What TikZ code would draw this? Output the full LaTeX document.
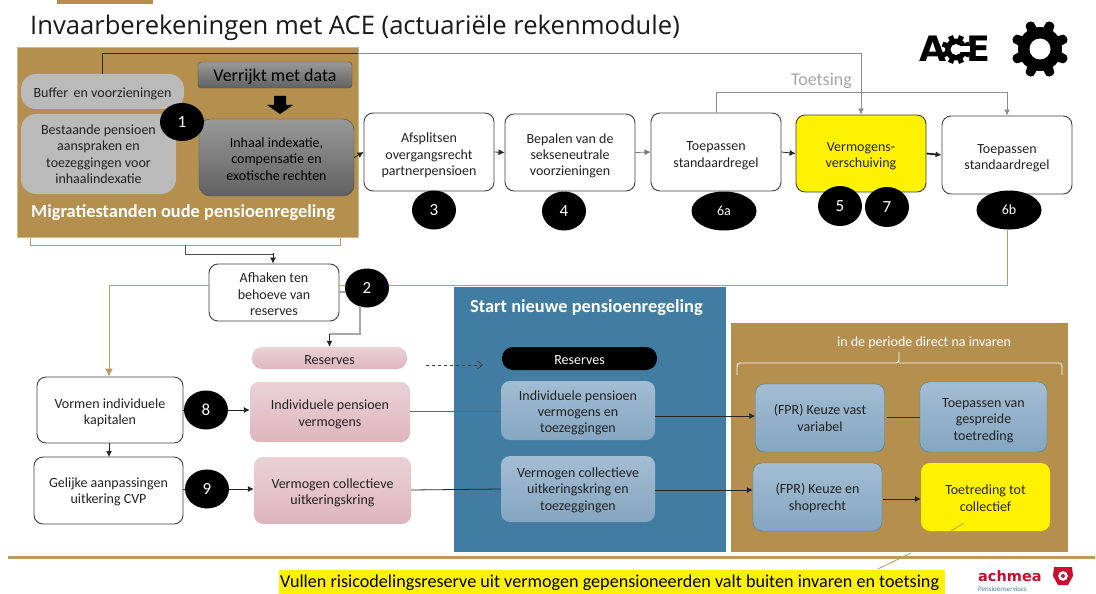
\documentclass[tikz,border=0pt]{standalone}
\usepackage{fontspec}
\setmainfont{Carlito}
\newfontfamily\titlefont{Open Sans}
\newfontfamily\logofont{DejaVu Sans}
\usetikzlibrary{arrows.meta,shapes.geometric}
\definecolor{tan1}{HTML}{B48F4E}
\definecolor{tanl}{HTML}{BE9A5C}
\definecolor{blue1}{HTML}{417DA3}
\definecolor{txt}{HTML}{222222}
\definecolor{pink1}{HTML}{E9D2D6}
\definecolor{pink2}{HTML}{DFB5BD}
\definecolor{blue2}{HTML}{A3BDD3}
\definecolor{blue3}{HTML}{85A6C1}
\definecolor{red1}{HTML}{C8102E}
\newcommand{\bodyfont}{\fontsize{14}{16.4}\selectfont}
\newcommand{\lowt}[1]{\rule{0pt}{#1pt}}
\tikzset{
 x=1pt,y=-1pt,
 flow/.style={draw=black!75,line width=0.9pt,rounded corners=9pt,fill=white,align=center,text=txt,font=\bodyfont,inner sep=0pt},
 grayb/.style={fill=black!27,rounded corners=11pt,align=center,text=txt,font=\bodyfont,inner sep=0pt},
 darkb/.style={draw=black!70,top color=black!40,bottom color=black!62,align=center,text=black,inner sep=0pt},
 pinkb/.style={top color=pink1,bottom color=pink2,rounded corners=9pt,align=center,text=txt,font=\bodyfont,inner sep=0pt},
 blueb/.style={top color=blue2,bottom color=blue3,rounded corners=9pt,align=center,text=txt,font=\bodyfont,inner sep=0pt},
 num/.style={ellipse,fill=black,text=white,inner sep=0pt,font=\fontsize{17}{17}\selectfont},
 arr/.style={-{Latex[length=6pt,width=6pt]},line width=0.8pt,draw=black!85},
 plain/.style={line width=0.8pt,draw=black!85},
 grayl/.style={line width=0.9pt,draw=black!35},
 tanline/.style={line width=0.8pt,draw=tanl},
}
\begin{document}
\begin{tikzpicture}
\useasboundingbox (0,0) rectangle (1096,594);
\fill[white] (0,0) rectangle (1096,594);
\fill[tan1] (57,0) rectangle (153,4);
\node[anchor=west,inner sep=0pt,font=\titlefont\fontsize{25.6}{30}\selectfont,text=black!90] (title) at (30,28) {Invaarberekeningen met ACE (actuariële rekenmodule)};
% ACE logo
\node[anchor=base west,inner sep=0pt,font=\logofont\bfseries\fontsize{35}{35}\selectfont,text=black] (aceA) at (919,62) {A};
\node[anchor=base east,inner sep=0pt,font=\logofont\bfseries\fontsize{35}{35}\selectfont,text=black] (aceE) at (991,62) {E};
\coordinate (cgear) at (956,49.5);
\foreach \a in {0,45,...,315}{
  \fill[black,rotate around={\a+22.5:(cgear)}] (956-2.6,49.5-14.5) rectangle (956+2.6,49.5-9);
}
\fill[black] (cgear) circle[radius=11pt];
\fill[white] (cgear) circle[radius=5.5pt];
\fill[white] (956,46.5) rectangle (970,52.5);
% gear
\coordinate (gearc) at (1040,49);
\foreach \a in {0,45,...,315}{
  \fill[black,rounded corners=2pt,rotate around={\a+22.5:(gearc)}] (1040-6,49-15) -- (1040-4,49-29) -- (1040+4,49-29) -- (1040+6,49-15) -- cycle;
}
\fill[black] (gearc) circle[radius=22pt];
\fill[white] (gearc) circle[radius=10.5pt];
% brown panel
\draw[tanline,line width=0.9pt] (30,237) -- (30,245) -- (340,245) -- (340,237);
\node[draw=tanl!70,fill=tan1,minimum width=340.5pt,minimum height=190pt,inner sep=0pt] (oldp) at (187.75,142) {};
\node[inner sep=0pt,font=\bfseries\fontsize{18.4}{20}\selectfont,text=white,anchor=west] (migr) at (31,212.5) {Migratiestanden oude pensioenregeling};
\node[grayb,rounded corners=15pt,minimum width=163pt,minimum height=35pt] (buffer) at (102.5,91.5) {\lowt{14.3}Buffer\, en voorzieningen};
\node[grayb,rounded corners=15pt,minimum width=155pt,minimum height=80pt] (best) at (98.5,154) {Bestaande pensioen\\aanspraken en\\toezeggingen voor\\inhaalindexatie};
\node[darkb,rounded corners=3pt,minimum width=154pt,minimum height=26pt,font=\fontsize{18}{20}\selectfont] (verr) at (275,75) {\lowt{17}Verrijkt met data};
\node[darkb,rounded corners=11pt,minimum width=155pt,minimum height=77pt,font=\bodyfont] (inh) at (276.5,157.5) {\lowt{13}Inhaal indexatie,\\compensatie en\\exotische rechten};
\fill[black] (274,96) -- (286,96) -- (286,105) -- (293,105) -- (280,114) -- (267,105) -- (274,105) -- cycle;
\node[num,minimum width=44pt,minimum height=38pt] (n1) at (182,122) {1};
% flow row
\node[flow,minimum width=130pt,minimum height=78pt] (afs) at (429,152) {\lowt{16.3}Afsplitsen\\overgangsrecht\\partnerpensioen};
\node[flow,minimum width=130pt,minimum height=77pt] (bep) at (570,152.5) {\lowt{16.3}Bepalen van de\\sekseneutrale\\voorzieningen};
\node[flow,minimum width=130pt,minimum height=78pt] (toe1) at (716,152) {\lowt{16.3}Toepassen\\standaardregel};
\node[flow,fill=yellow,minimum width=130pt,minimum height=77pt,text=black!85] (verm) at (861,153.5) {\lowt{14.3}Vermogens-\\verschuiving};
\node[flow,minimum width=130pt,minimum height=78pt] (toe2) at (1007,155) {\lowt{15.3}Toepassen\\standaardregel};
\node[num,minimum width=44pt,minimum height=39pt] (n3) at (434,210) {3};
\node[num,minimum width=44pt,minimum height=39pt] (n4) at (564,211) {4};
\node[num,minimum width=65pt,minimum height=39pt,font=\bodyfont] (n6a) at (724,211) {6a};
\node[num,minimum width=44pt,minimum height=40pt] (n5) at (840,206) {5};
\node[num,minimum width=44pt,minimum height=40pt] (n7) at (887,207) {7};
\node[num,minimum width=65pt,minimum height=39pt,font=\bodyfont] (n6b) at (1009,210) {6b};
\node[inner sep=0pt,font=\fontsize{18}{20}\selectfont,text=black!35] (toets) at (821.5,80.5) {Toetsing};
% connectors top
\coordinate (tl) at (102,53);
\draw[arr,draw=black!45] (buffer.north -| tl) -- (tl) -- (tl -| verm.north) -- (verm.north);
\draw[plain] (buffer.north -| tl) -- (tl) -- (358,53);
\draw[grayl,-{Latex[length=6pt,width=6pt]},draw=black!45] (toe1.north) -- ++(0,-20) -| (toe2.north);
\draw[arr] (inh.east) -- (afs.west);
\draw[arr] (afs.east) -- (bep.west);
\draw[arr,draw=black!55] (bep.east) -- (toe1.west);
\draw[arr] (toe1.east) -- (verm.west);
\draw[arr,line width=1.8pt] (verm.east) -- (toe2.west);
% lower left
\node[flow,minimum width=130pt,minimum height=57pt] (afh) at (274,292.5) {\lowt{13.3}Afhaken ten\\behoeve van\\reserves};
\node[num,minimum width=44pt,minimum height=39pt] (n2) at (367,288) {2};
\draw[plain,draw=black!70] (185,245) |- (273,254);
\draw[arr] (273,253) -- (afh.north -| 273,0);
\node[flow,minimum width=146pt,minimum height=66pt] (vorm) at (110,410) {\lowt{15.3}Vormen individuele\\kapitalen};
\node[flow,minimum width=149pt,minimum height=67pt] (gel) at (108.5,490.5) {\lowt{12.3}Gelijke aanpassingen\\uitkering CVP};
\node[num,minimum width=44pt,minimum height=39pt] (n8) at (206,410) {8};
\node[num,minimum width=44pt,minimum height=39pt] (n9) at (207,489) {9};
\node[pinkb,rounded corners=10pt,minimum width=155pt,minimum height=22pt] (res1) at (329.5,358) {\lowt{12.3}Reserves};
\node[pinkb,minimum width=160pt,minimum height=60pt] (ind1) at (330,412) {\lowt{14.3}Individuele pensioen\\vermogens};
\node[pinkb,minimum width=157pt,minimum height=67pt] (col1) at (332.5,490.5) {\lowt{14.3}Vermogen collectieve\\uitkeringskring};
\draw[tanline] (n6b.south -| toe2.north) |- (n2.east |- 0,285);
\draw[tanline] (afh.east |- 0,285) -- (n2.west |- 0,285);
\draw[tanline,line width=1pt,-{Latex[length=8pt,width=8pt]}] (afh.west |- 0,285) -| (vorm.north -| 109,0);
\draw[grayl,line width=1.2pt] (afh.east |- 0,292) -- (n2.west |- 0,292);
\draw[grayl,line width=1.2pt] (360,306) -- (360,334) -- (329.5,334);
\draw[arr] (329.5,334) -- (res1.north);
\draw[arr] (109,443) -- (109,457);
\draw[arr] (n8.east) -- (ind1.west |- n8.east);
\draw[arr] (n9.east) -- (col1.west |- n9.east);
\draw[plain,line width=0.6pt] (183,410) -- (n8.west);
\draw[plain,line width=0.6pt] (183,489) -- (n9.west);
% blue panel
\node[fill=blue1,minimum width=272pt,minimum height=265pt,inner sep=0pt] (newp) at (590,419.5) {};
\node[anchor=west,inner sep=0pt,font=\bfseries\fontsize{18.4}{20}\selectfont,text=white] (start) at (470,308) {Start nieuwe pensioenregeling};
\node[fill=black,rounded corners=11pt,minimum width=155pt,minimum height=23pt,inner sep=0pt,text=white,font=\bodyfont] (res2) at (579.5,358.5) {\lowt{13}Reserves};
\draw[dashed,line width=0.7pt,draw=black!75,-{Straight Barb[length=5pt,width=8pt]}] (426,365) -- (483,365);
\node[blueb,minimum width=154pt,minimum height=59pt] (ind2) at (578,410.5) {\lowt{14.3}Individuele pensioen\\vermogens en\\toezeggingen};
\node[blueb,minimum width=154pt,minimum height=66pt] (col2) at (578,489) {\lowt{12.3}Vermogen collectieve\\uitkeringskring en\\toezeggingen};
\draw[grayl,draw=black!60] (ind1.east |- 0,411) -- (ind2.west |- 0,411);
\draw[plain] (col1.east |- 0,490) -- (col2.west |- 0,489);
% brown right panel
\node[fill=tan1,minimum width=337pt,minimum height=229pt,inner sep=0pt] (perp) at (899.5,437.5) {};
\node[inner sep=0pt,text=white,font=\bodyfont] (perl) at (924,343) {in de periode direct na invaren};
\draw[white,line width=0.9pt,rounded corners=3pt] (737,375) -- (737,363) -- (899,363) -- (899,352);
\draw[white,line width=0.9pt,rounded corners=3pt] (1062,375) -- (1062,363) -- (899,363);
\node[blueb,draw=blue1,minimum width=129pt,minimum height=68pt] (fpr1) at (820,418) {(FPR) Keuze vast\\variabel};
\node[blueb,draw=blue1,minimum width=127pt,minimum height=70pt] (app) at (983.5,417) {\lowt{16.3}Toepassen van\\gespreide\\toetreding};
\node[blueb,draw=blue1,minimum width=129pt,minimum height=68pt] (fpr2) at (817.5,497) {\lowt{12.3}(FPR) Keuze en\\shoprecht};
\node[fill=yellow,rounded corners=9pt,minimum width=129pt,minimum height=68pt,align=center,text=black!85,inner sep=0pt,font=\bodyfont] (toetr) at (985.5,497) {\lowt{12.3}Toetreding tot\\collectief};
\draw[arr] (ind2.east |- 0,416) -- (fpr1.west |- 0,416);
\draw[arr] (col2.east |- 0,490) -- (fpr2.west |- 0,490);
\draw[plain,draw=black!80] (887,417) -- (app.west |- 0,417);
\draw[arr] (883,499) -- (toetr.west |- 0,499);
% bottom
\draw[tanl,line width=3pt] (8,557) -- (1095,557);
\draw[tanl,line width=0.8pt] (964,523) -- (951,531);
\draw[tanl,line width=0.8pt] (911,553) -- (878,569);
\node[fill=yellow,minimum width=666pt,minimum height=24pt,inner sep=0pt] (hl) at (612,582) {};
\node[inner sep=0pt,anchor=west,font=\fontsize{18.15}{20}\selectfont,text=black] (hlt) at (280,582.5) {Vullen risicodelingsreserve uit vermogen gepensioneerden valt buiten invaren en toetsing};
% achmea
\node[inner sep=0pt,anchor=base west,font=\logofont\bfseries\fontsize{14.5}{17}\selectfont,text=red1] (ach) at (978,581) {achmea};
\fill[red1,even odd rule] (1054,567) -- (1072,567) -- (1073,576) -- (1068,585) -- (1058,585) -- (1053,576) -- cycle (1063,576) circle[radius=5pt];
\fill[red1] (1063,576) circle[radius=2pt];
\node[inner sep=0pt,anchor=west,font=\fontsize{7}{7}\selectfont,text=blue1] (pens) at (978,589.5) {Pensioenservices};
\end{tikzpicture}
\end{document}
